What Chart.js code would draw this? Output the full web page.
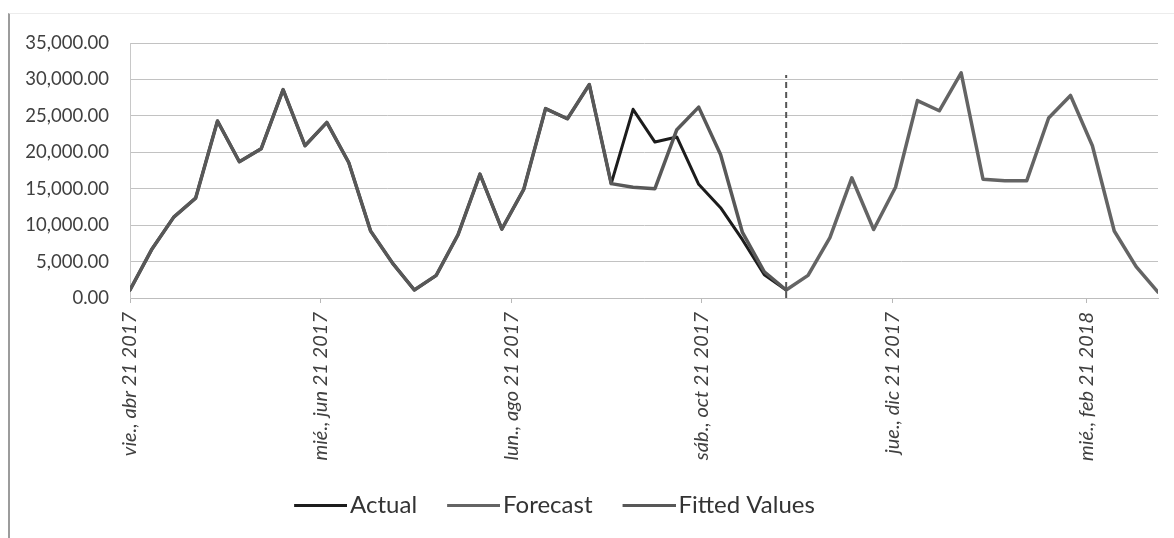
<!DOCTYPE html>
<html>
<head>
<meta charset="utf-8">
<script src="https://cdn.jsdelivr.net/npm/chart.js@4.4.1/dist/chart.umd.min.js"></script>
<style>
  html, body { margin: 0; padding: 0; background: #fff; }
  #wrap { position: relative; width: 1174px; height: 538px; overflow: hidden; }
  #wrap canvas { position: absolute; left: 0; top: 0; }
  #frame { position: absolute; left: 8px; top: 13px; right: -4px; bottom: -4px;
           border-left: 2px solid #9c9c9c; border-top: 1px solid #ececec; pointer-events: none; }
</style>
</head>
<body>
<div id="wrap">
  <canvas id="chart" width="1174" height="538"></canvas>
  <div id="frame"></div>
</div>
<script>
// Weekly periods (Friday of each week)
const weeks = [
  '2017-04-21','2017-04-28','2017-05-05','2017-05-12','2017-05-19','2017-05-26',
  '2017-06-02','2017-06-09','2017-06-16','2017-06-23','2017-06-30','2017-07-07',
  '2017-07-14','2017-07-21','2017-07-28','2017-08-04','2017-08-11','2017-08-18',
  '2017-08-25','2017-09-01','2017-09-08','2017-09-15','2017-09-22','2017-09-29',
  '2017-10-06','2017-10-13','2017-10-20','2017-10-27','2017-11-03','2017-11-10',
  '2017-11-17','2017-11-24','2017-12-01','2017-12-08','2017-12-15','2017-12-22',
  '2017-12-29','2018-01-05','2018-01-12','2018-01-19','2018-01-26','2018-02-02',
  '2018-02-09','2018-02-16','2018-02-23','2018-03-02','2018-03-09','2018-03-16'
];

// Observed values (history, first 31 weeks)
const actual = [
  1100, 6700, 11100, 13700, 24300, 18700, 20500, 28600, 20900, 24100,
  18600, 9200, 4800, 1100, 3100, 8700, 17000, 9450, 14900, 26000,
  24600, 29300, 15700, 25900, 21400, 22100, 15600, 12400, 8000, 3200,
  1100
];

// Model fit over the history
const fitted = [
  1100, 6700, 11100, 13700, 24300, 18700, 20500, 28600, 20900, 24100,
  18600, 9200, 4800, 1100, 3100, 8700, 17000, 9450, 14900, 26000,
  24600, 29300, 15700, 15200, 15000, 23100, 26200, 19700, 9000, 3600,
  1100
];

// Forecast from the last observed week onward
const forecastStart = '2017-11-17';
const forecast = [
  1100, 3100, 8300, 16500, 9400, 15200, 27100, 25700, 30900, 16300,
  16100, 16100, 24700, 27800, 20900, 9200, 4300, 800
];

// Marker at the start of the forecast
const dividerTop = 30600;

// Date axis labels
const tickDates  = ['2017-04-21','2017-06-21','2017-08-21','2017-10-21','2017-12-21','2018-02-21'];
const tickLabels = ['vie., abr 21 2017','mié., jun 21 2017','lun., ago 21 2017',
                    'sáb., oct 21 2017','jue., dic 21 2017','mié., feb 21 2018'];

const DAY = 86400000;
const dayOf = d => Math.round((Date.parse(d) - Date.parse(weeks[0])) / DAY);
const fcOffset = weeks.indexOf(forecastStart);

const toPoints = (vals, offset) => vals.map((v, i) => ({ x: dayOf(weeks[i + offset]), y: v }));

// Legend swatch: a horizontal stroke in the right part of a transparent strip,
// so that the stroke sits right against its label text
function swatch(color) {
  const c = document.createElement('canvas');
  c.width = 75; c.height = 3;
  const g = c.getContext('2d');
  g.fillStyle = color;
  g.fillRect(22, 0, 53, 3);
  return c;
}

const legendShift = {
  id: 'legendShift',
  afterLayout(chart) {
    const l = chart.legend;
    if (!l) return;
    const shift = 548 - (l.left + l.right) / 2;
    l.left += shift;
    l.right += shift;
  }
};

const colors = { actual: '#1c1c1c', forecast: '#646464', fitted: '#585858', divider: '#555555' };
const tickColor = '#404040';

new Chart(document.getElementById('chart'), {
  type: 'line',
  data: {
    datasets: [
      { label: 'Actual', data: toPoints(actual, 0), borderColor: colors.actual,
        borderWidth: 3, order: 2 },
      { label: 'Forecast', data: toPoints(forecast, fcOffset), borderColor: colors.forecast,
        borderWidth: 3.5, order: 1 },
      { label: 'Fitted Values', data: toPoints(fitted, 0), borderColor: colors.fitted,
        borderWidth: 3.5, order: 0 },
      { label: 'divider', data: [{ x: dayOf(forecastStart), y: 0 }, { x: dayOf(forecastStart), y: dividerTop }],
        borderColor: colors.divider, borderWidth: 2, borderDash: [6, 4], borderCapStyle: 'butt', order: 3 }
    ]
  },
  options: {
    responsive: false,
    animation: false,
    devicePixelRatio: 1,
    layout: { padding: { left: 0, right: 16, top: 43, bottom: 11 } },
    elements: {
      point: { radius: 0, hoverRadius: 0 },
      line: { tension: 0, fill: false, borderJoinStyle: 'round', borderCapStyle: 'round' }
    },
    plugins: {
      tooltip: { enabled: false },
      legend: {
        position: 'bottom',
        labels: {
          usePointStyle: true,
          pointStyleWidth: 57,
          padding: 17,
          color: '#333',
          font: { family: 'Lato', size: 24 },
          generateLabels: chart => chart.data.datasets.slice(0, 3).map((ds, i) => ({
            text: ds.label,
            datasetIndex: i,
            pointStyle: swatch(ds.borderColor),
            fillStyle: ds.borderColor,
            strokeStyle: ds.borderColor,
            lineWidth: 0,
            hidden: false,
            fontColor: '#333'
          }))
        }
      }
    },
    scales: {
      x: {
        type: 'linear',
        min: 0,
        max: dayOf(weeks[weeks.length - 1]),
        afterBuildTicks: s => { s.ticks = tickDates.map(d => ({ value: dayOf(d) })); },
        afterFit: s => { s.height = 178; },
        ticks: {
          autoSkip: false, minRotation: 90, maxRotation: 90, padding: 9,
          color: tickColor,
          font: { family: 'Lato', size: 20, style: 'italic' },
          callback: (v, i) => tickLabels[i]
        },
        grid: { drawOnChartArea: false, drawTicks: true, tickLength: 5, color: '#b8b8b8' },
        border: { color: '#bdbdbd', width: 1 }
      },
      y: {
        min: 0,
        max: 35000,
        afterFit: s => { s.width = 130; },
        ticks: {
          stepSize: 5000, padding: 21, color: tickColor,
          font: { family: 'Lato', size: 18.5 },
          callback: v => Number(v).toLocaleString('en-US', { minimumFractionDigits: 2, maximumFractionDigits: 2 })
        },
        grid: { color: '#c2c2c2', lineWidth: 1, drawTicks: false },
        border: { color: '#c8c8c8', width: 1 }
      }
    }
  },
  plugins: [legendShift]
});
</script>
</body>
</html>
